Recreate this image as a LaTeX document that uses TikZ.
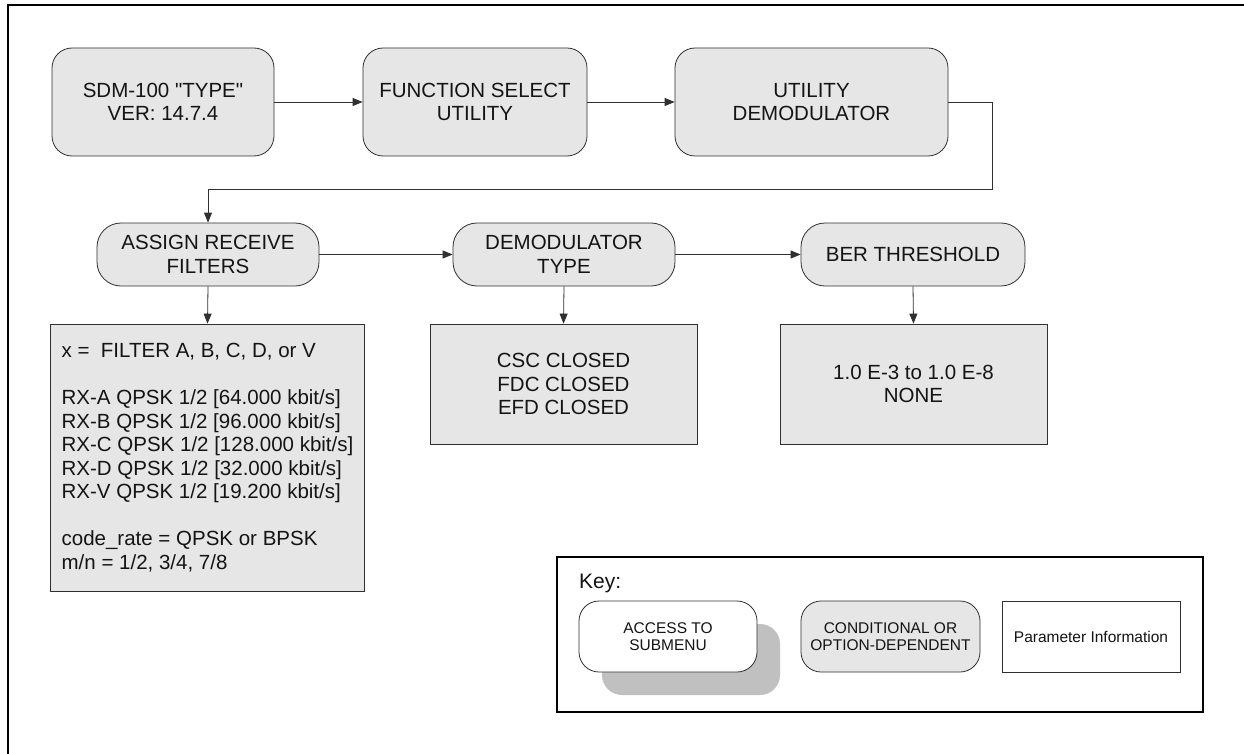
\documentclass[tikz,border=0pt]{standalone}
\usepackage{fontspec}
\setmainfont{Liberation Sans}
\usetikzlibrary{arrows.meta}
\definecolor{boxgrey}{HTML}{E6E6E6}
\definecolor{shadowgrey}{HTML}{C0C0C0}
\definecolor{edgegrey}{HTML}{303030}

\begin{document}
\begin{tikzpicture}[x=1pt,y=-1pt,
  every node/.style={text=black!92},
  bigtext/.style={font=\fontsize{20.5}{23.5}\selectfont},
  keytext/.style={font=\fontsize{15.5}{17}\selectfont},
  menubox/.style={bigtext, draw=edgegrey, line width=0.8pt, fill=boxgrey,
    rounded corners=20pt, align=center, inner sep=0pt},
  pillbox/.style={menubox, rounded corners=24pt},
  parambox/.style={bigtext, draw=edgegrey, line width=0.8pt, fill=boxgrey,
    align=center, inner sep=0pt},
  arr/.style={draw=edgegrey, line width=0.8pt, -{Triangle[length=10pt,width=8pt]}}
]
% page area and the outer frame, which runs past the right and bottom edges
\clip (0,0) rectangle (1244,754);
\fill[white] (0,0) rectangle (1244,754);
\draw[line width=2.6pt] (8,5) rectangle (1270,780);

% top row
\node[menubox, minimum width=222pt, minimum height=108pt] (sdm) at (163,102)
  {SDM-100 \textquotedbl TYPE\textquotedbl\\VER: 14.7.4};
\node[menubox, minimum width=224pt, minimum height=108pt] (fsel) at (475,102)
  {FUNCTION SELECT\\UTILITY};
\node[menubox, minimum width=273pt, minimum height=108pt] (udem) at (811.5,102)
  {UTILITY\\DEMODULATOR};

% second row
\node[pillbox, minimum width=222pt, minimum height=63pt] (arf) at (208,254.5)
  {ASSIGN RECEIVE\\FILTERS};
\node[pillbox, minimum width=222pt, minimum height=63pt] (dtype) at (564,254.5)
  {DEMODULATOR\\TYPE};
\node[pillbox, minimum width=224pt, minimum height=63pt] (ber) at (913,254.5)
  {BER THRESHOLD};

% parameter boxes
\node[parambox, align=left, inner xsep=11pt, minimum width=311pt, minimum height=267pt]
  (filters) at (207.5,457.5)
  {x =\ \ FILTER A, B, C, D, or V\\[23.5pt]
   RX-A QPSK 1/2 [64.000 kbit/s]\\
   RX-B QPSK 1/2 [96.000 kbit/s]\\
   RX-C QPSK 1/2 [128.000 kbit/s]\\
   RX-D QPSK 1/2 [32.000 kbit/s]\\
   RX-V QPSK 1/2 [19.200 kbit/s]\\[23.5pt]
   code\_rate = QPSK or BPSK\\
   m/n = 1/2, 3/4, 7/8};
\node[parambox, minimum width=267pt, minimum height=120pt] (dvals) at (563.5,384)
  {CSC CLOSED\\FDC CLOSED\\EFD CLOSED};
\node[parambox, minimum width=267pt, minimum height=120pt] (bvals) at (913.5,384)
  {1.0 E-3 to 1.0 E-8\\NONE};

% connectors
\coordinate (turn) at (992,189);
\draw[arr] (sdm.east) -- (fsel.west);
\draw[arr] (fsel.east) -- (udem.west);
\draw[arr] (udem.east) -| (turn) -| (arf.north);
\draw[arr] (arf.east) -- (dtype.west);
\draw[arr] (dtype.east) -- (ber.west);
\draw[arr] (arf.south) -- (filters.north);
\draw[arr] (dtype.south) -- (dvals.north);
\draw[arr] (ber.south) -- (bvals.north);

% key
\node[draw=black, line width=1.5pt, fill=white, minimum width=646pt, minimum height=155pt,
  inner sep=0pt] (key) at (880,634.5) {};
\node[anchor=base west, inner sep=0pt, font=\fontsize{21}{24}\selectfont] (keytitle)
  at (579,588) {Key:};
\fill[shadowgrey, rounded corners=20pt] (602,624) rectangle (780,695);
\node[keytext, draw=edgegrey, line width=0.8pt, fill=white, rounded corners=20pt,
  align=center, inner sep=0pt, minimum width=178pt, minimum height=71pt]
  (access) at (668,636.5) {ACCESS TO\\SUBMENU};
\node[keytext, draw=edgegrey, line width=0.8pt, fill=boxgrey, rounded corners=20pt,
  align=center, inner sep=0pt, minimum width=179pt, minimum height=71pt]
  (cond) at (890.5,636.5) {CONDITIONAL OR\\OPTION-DEPENDENT};
\node[keytext, draw=edgegrey, line width=0.8pt, fill=white,
  align=center, inner sep=0pt, minimum width=178pt, minimum height=71pt]
  (pinfo) at (1091,636.5) {Parameter Information};
\end{tikzpicture}
\end{document}
